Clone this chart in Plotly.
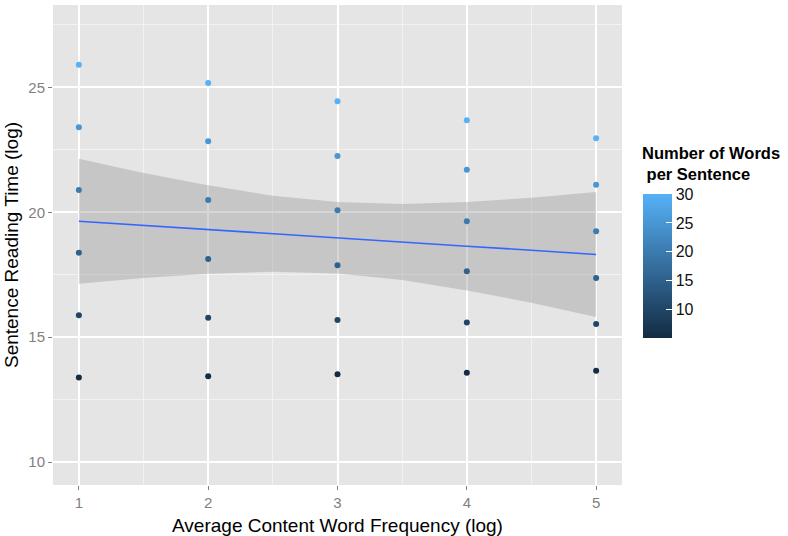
import plotly.graph_objects as go

# ---- data ----
freq = [1]*6 + [2]*6 + [3]*6 + [4]*6 + [5]*6
reading_time = [
    25.91, 23.40, 20.89, 18.38, 15.88, 13.38,
    25.18, 22.84, 20.49, 18.13, 15.78, 13.43,
    24.45, 22.25, 20.08, 17.88, 15.69, 13.51,
    23.69, 21.70, 19.64, 17.64, 15.59, 13.57,
    22.96, 21.10, 19.24, 17.37, 15.53, 13.65,
]
words = [30, 25, 20, 15, 10, 5] * 5

# smoother (linear fit) and its confidence band, read at these x positions
band_x = [1, 1.5, 2, 2.5, 3, 3.5, 4, 4.5, 5]
fit_y = [19.64, 19.47, 19.31, 19.14, 18.98, 18.81, 18.64, 18.48, 18.31]
band_upper = [22.14, 21.57, 21.08, 20.66, 20.41, 20.33, 20.41, 20.58, 20.81]
band_lower = [17.14, 17.37, 17.54, 17.62, 17.55, 17.29, 16.87, 16.38, 15.81]

x_ticks = [1, 2, 3, 4, 5]
y_ticks = [10, 15, 20, 25]
cbar_ticks = [10, 15, 20, 25, 30]

FONT = "Liberation Sans, Arial, sans-serif"

fig = go.Figure()

# confidence band
fig.add_trace(go.Scatter(
    x=band_x + band_x[::-1], y=band_upper + band_lower[::-1],
    fill="toself", fillcolor="rgba(153,153,153,0.4)",
    line=dict(width=0), mode="lines", hoverinfo="skip", showlegend=False))

# points
fig.add_trace(go.Scatter(
    x=freq, y=reading_time, mode="markers", showlegend=False,
    marker=dict(size=6, color=words, cmin=min(words), cmax=max(words),
                colorscale=[[0, "#132B43"], [1, "#56B1F7"]],
                showscale=True,
                colorbar=dict(
                    thickness=29, thicknessmode="pixels",
                    len=144, lenmode="pixels", xpad=0, ypad=0,
                    x=1.037, xanchor="left", y=0.456, yanchor="middle",
                    outlinewidth=0,
                    tickvals=cbar_ticks, ticks="inside", ticklen=6,
                    tickcolor="white", tickwidth=1,
                    tickfont=dict(family=FONT, size=16, color="#111111"),
                ))))

# fitted line
fig.add_trace(go.Scatter(
    x=band_x, y=fit_y, mode="lines", line=dict(color="#3366FF", width=1.6),
    showlegend=False))

# legend title
fig.add_annotation(text="<b>Number of Words<br> per Sentence</b>",
                   xref="paper", yref="paper", align="left",
                   x=1.031, y=0.624, xanchor="left", yanchor="bottom",
                   showarrow=False, font=dict(family=FONT, size=16.5, color="black"))

fig.update_layout(
    width=788, height=536,
    margin=dict(l=53, r=166, t=5, b=51),
    paper_bgcolor="white", plot_bgcolor="#E5E5E5",
    font=dict(family=FONT),
    xaxis=dict(
        range=[0.8, 5.2], tickvals=x_ticks, showline=False, zeroline=False,
        showgrid=True, gridcolor="white", gridwidth=1.5,
        minor=dict(dtick=0.5, tick0=0.5, showgrid=True, gridcolor="#F2F2F2",
                   gridwidth=0.8, ticks=""),
        ticks="outside", ticklen=4, tickcolor="#7F7F7F", tickwidth=1,
        tickfont=dict(size=15, color="#7F7F7F"),
        title=dict(text="Average Content Word Frequency (log)",
                   font=dict(size=19, color="black"), standoff=8),
    ),
    yaxis=dict(
        range=[9.08, 28.3], tickvals=y_ticks, showline=False, zeroline=False,
        showgrid=True, gridcolor="white", gridwidth=1.5,
        minor=dict(dtick=2.5, tick0=0, showgrid=True, gridcolor="#F2F2F2",
                   gridwidth=0.8, ticks=""),
        ticks="outside", ticklen=4, tickcolor="#7F7F7F", tickwidth=1,
        tickfont=dict(size=15, color="#7F7F7F"),
        title=dict(text="Sentence Reading Time (log)",
                   font=dict(size=19, color="black"), standoff=4),
    ),
)

fig.write_html("out.html", config={"displayModeBar": False},
               post_script="document.body.style.margin='0';")
